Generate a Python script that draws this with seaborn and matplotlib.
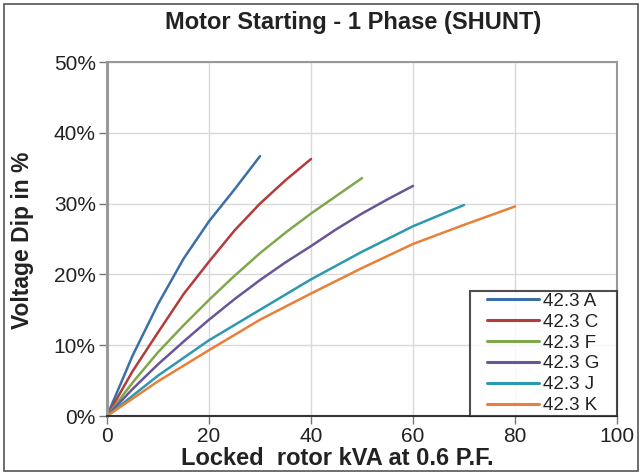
import matplotlib
matplotlib.use("Agg")
import matplotlib.pyplot as plt
from matplotlib.patches import Rectangle
from matplotlib.lines import Line2D
from matplotlib.legend_handler import HandlerLine2D
from matplotlib.ticker import PercentFormatter
import seaborn as sns
import pandas as pd

# data (kVA, voltage dip %)
kva_a = [0, 5, 10, 15, 20, 25, 30]
dip_a = [0, 8.5, 15.8, 22.2, 27.5, 32.0, 36.7]

kva_c = [0, 5, 10, 15, 20, 25, 30, 35, 40]
dip_c = [0, 6.3, 11.8, 17.2, 21.8, 26.2, 30.0, 33.3, 36.3]

kva_f = [0, 5, 10, 15, 20, 25, 30, 35, 40, 45, 50]
dip_f = [0, 4.7, 9.0, 12.8, 16.4, 19.8, 23.0, 25.9, 28.6, 31.1, 33.6]

kva_g = [0, 5, 10, 15, 20, 25, 30, 35, 40, 45, 50, 55, 60]
dip_g = [0, 3.8, 7.3, 10.5, 13.6, 16.5, 19.2, 21.7, 24.0, 26.4, 28.6, 30.6, 32.5]

kva_j = [0, 10, 20, 30, 40, 50, 60, 70]
dip_j = [0, 5.7, 10.7, 15.0, 19.3, 23.2, 26.8, 29.8]

kva_k = [0, 10, 20, 30, 40, 50, 60, 70, 80]
dip_k = [0, 4.9, 9.3, 13.6, 17.3, 20.9, 24.3, 27.0, 29.6]

series = ["42.3 A", "42.3 C", "42.3 F", "42.3 G", "42.3 J", "42.3 K"]
colors = ["#3B6FA8", "#B33C3A", "#7FA84A", "#6A5597", "#2D98B0", "#E8803A"]

frames = []
for name, xs, ys in zip(series,
                        [kva_a, kva_c, kva_f, kva_g, kva_j, kva_k],
                        [dip_a, dip_c, dip_f, dip_g, dip_j, dip_k]):
    frames.append(pd.DataFrame({"kva": xs, "dip": ys, "motor": name}))
df = pd.concat(frames, ignore_index=True)

sns.set_style("white")
plt.rcParams["font.family"] = ["Liberation Sans", "DejaVu Sans"]

fig = plt.figure(figsize=(6.41, 4.73), dpi=100)
ax = fig.add_axes([0.1669, 0.1205, 0.7957, 0.7484])

sns.lineplot(data=df, x="kva", y="dip", hue="motor", palette=colors,
             hue_order=series, linewidth=1.8, ax=ax, sort=False)

ax.set_xlim(0, 100)
ax.set_ylim(0, 50)
ax.set_xticks([0, 20, 40, 60, 80, 100])
ax.set_yticks([0, 10, 20, 30, 40, 50])
ax.yaxis.set_major_formatter(PercentFormatter(decimals=0))
ax.grid(True, color="#d9d9d9", linewidth=1.0)
ax.set_axisbelow(True)

ax.tick_params(axis="both", labelsize=15, labelcolor="#222222", color="#777777",
               length=6, width=1, direction="out", pad=2, left=True, bottom=True)
for s in ["left", "top", "right"]:
    ax.spines[s].set_color("#999999")
    ax.spines[s].set_linewidth(1.5)
ax.spines["left"].set_linewidth(2.2)
ax.spines["bottom"].set_color("#333333")
ax.spines["bottom"].set_linewidth(1.5)

ax.set_xlabel("Locked  rotor kVA at 0.6 P.F.", fontsize=17, fontweight="bold",
              color="#222222")
ax.xaxis.set_label_coords(0.451, -0.087)
ax.set_ylabel("Voltage Dip in %", fontsize=16.5, fontweight="bold",
              color="#222222")
ax.yaxis.set_label_coords(-0.143, 0.497)
fig.suptitle("Motor Starting - 1 Phase (SHUNT)", x=0.5515, y=0.976,
             fontsize=17, fontweight="bold", color="#222222")

leg = ax.legend(loc="lower left", bbox_to_anchor=(0.7118, 0, 0.288, 0.35),
                mode="expand", fontsize=13.5, frameon=True, fancybox=False,
                borderaxespad=0, handlelength=3.6, labelspacing=0.2,
                handletextpad=0.2, borderpad=0.1,
                handler_map={Line2D: HandlerLine2D(xpad=0.82)})
leg.get_frame().set_edgecolor("#222222")
leg.get_frame().set_linewidth(1.5)
for t in leg.get_texts():
    t.set_color("#222222")
for h in leg.get_lines():
    h.set_linewidth(2.2)

# grey frame around the whole picture
fig.patches.append(Rectangle((0.006, 0.004), 0.99, 0.988, transform=fig.transFigure,
                             fill=False, edgecolor="#555555", linewidth=1.2))

fig.savefig("out.png", dpi=100)
